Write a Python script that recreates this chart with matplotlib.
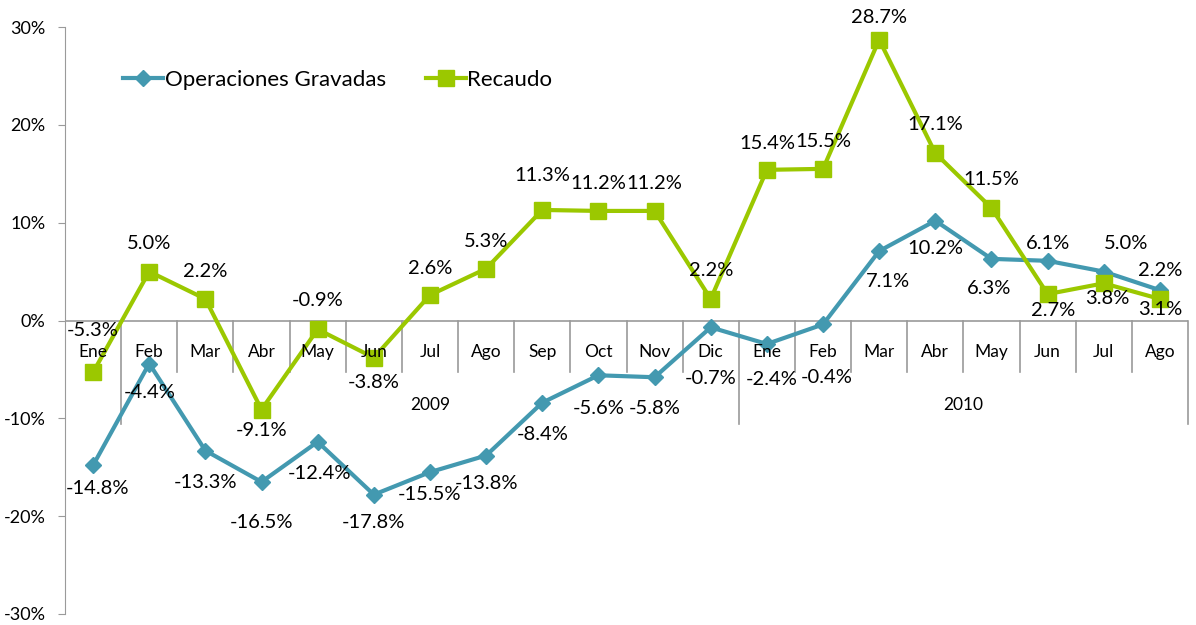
import numpy as np
import matplotlib
matplotlib.use('Agg')
from matplotlib import pyplot as plt

plt.rcParams['font.family'] = ['Lato', 'DejaVu Sans']

meses = ['Ene', 'Feb', 'Mar', 'Abr', 'May', 'Jun', 'Jul', 'Ago', 'Sep', 'Oct', 'Nov', 'Dic',
         'Ene', 'Feb', 'Mar', 'Abr', 'May', 'Jun', 'Jul', 'Ago']
anios = ['2009', '2010']
operaciones = [-14.8, -4.4, -13.3, -16.5, -12.4, -17.8, -15.5, -13.8, -8.4, -5.6, -5.8, -0.7,
               -2.4, -0.4, 7.1, 10.2, 6.3, 6.1, 5.0, 3.1]
recaudo = [-5.3, 5.0, 2.2, -9.1, -0.9, -3.8, 2.6, 5.3, 11.3, 11.2, 11.2, 2.2,
           15.4, 15.5, 28.7, 17.1, 11.5, 2.7, 3.8, 2.2]

# label offsets in pixels (dx, dy)
off_op = [(4, -23), (0, -29), (0, -32), (0, -41), (2, -32), (0, -28), (0, -22), (0, -28),
          (0, -32), (0, -33), (0, -31), (0, -51), (5, -36), (4, -53), (9, -30), (0, -28),
          (-2, -30), (0, 17), (22, 28), (0, -19)]
off_rec = [(0, 42), (0, 28), (0, 27), (0, -21), (0, 29), (0, -25), (0, 27), (0, 27),
           (0, 34), (0, 27), (0, 27), (0, 28), (0, 26), (0, 27), (0, 22), (0, 29),
           (0, 28), (5, -16), (4, -15), (0, 28)]

azul = '#4399b0'
verde = '#9bc800'
gris = '#9a9a9a'

fig = plt.figure(figsize=(11.96, 6.25), dpi=100)
ax = fig.add_axes([65/1196, 1-614/625, (1188-65)/1196, (614-27)/625])

x = np.arange(len(meses)) + 0.5
ax.plot(x, operaciones, color=azul, lw=3, marker='D', ms=8, label='Operaciones Gravadas', zorder=3)
ax.plot(x, recaudo, color=verde, lw=3, marker='s', ms=11, label='Recaudo', zorder=3)

for i in range(len(x)):
    ax.annotate('%.1f%%' % operaciones[i], (x[i], operaciones[i]), xytext=off_op[i],
                textcoords='offset pixels', ha='center', va='center', fontsize=14.5)
    ax.annotate('%.1f%%' % recaudo[i], (x[i], recaudo[i]), xytext=off_rec[i],
                textcoords='offset pixels', ha='center', va='center', fontsize=14.5)

ax.set_xlim(0, len(meses))
ax.set_ylim(-30, 30)
ax.set_yticks(np.arange(-30, 31, 10))
ax.set_yticklabels(['%d%%' % v for v in np.arange(-30, 31, 10)], fontsize=13)
ax.set_xticks([])
for s in ['top', 'right', 'bottom']:
    ax.spines[s].set_visible(False)
ax.spines['left'].set_color(gris)
ax.tick_params(axis='y', color=gris, length=5, pad=9)

# category axis at zero
ax.axhline(0, color=gris, lw=1.2, zorder=1)
for b in range(1, len(meses) + 1):
    largo = b in (1, 12, 20)
    ax.plot([b, b], [0, -10.6 if largo else -5.3], color=gris, lw=1.2, zorder=1, clip_on=False)
for i, m in enumerate(meses):
    ax.text(x[i], -3.2, m, ha='center', va='center', fontsize=12.5)
ax.text(6.5, -8.6, anios[0], ha='center', va='center', fontsize=12.5)
ax.text(16, -8.6, anios[1], ha='center', va='center', fontsize=12.5)

ax.legend(loc='center left', bbox_to_anchor=(0.052, 0.91), ncol=2, frameon=False, fontsize=16,
          handlelength=1.8, handletextpad=0.05, columnspacing=1.8, borderpad=0, borderaxespad=0)

fig.savefig('out.png', dpi=100)
